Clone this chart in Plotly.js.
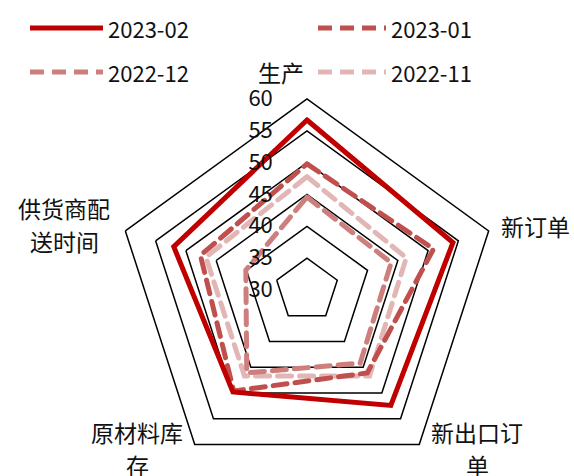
<!DOCTYPE html>
<html>
<head>
<meta charset="utf-8">
<script src="https://cdn.plot.ly/plotly-3.0.1.min.js"></script>
<style>
html,body{margin:0;padding:0;overflow:hidden;background:#fff;}
#chart{width:574px;height:490px;}
.js-line{stroke-linecap:round;}
</style>
</head>
<body>
<div id="chart"></div>
<script>
// Categories (clockwise from top)
const categories = ['生产', '新订单', '新出口订单', '原材料库存', '供货商配送时间'];
const tickLabels = ['生产', '新订单', '新出口订<br>单', '原材料库<br>存', '供货商配<br>送时间'];

// Series
const seriesNames = ['2023-02', '2023-01', '2022-12', '2022-11'];
const v202302 = [56.7, 54.1, 52.4, 49.8, 52.0];
const v202301 = [49.8, 50.9, 46.1, 49.6, 47.6];
const v202212 = [44.6, 43.9, 44.2, 46.1, 40.1];
const v202211 = [47.8, 46.4, 46.7, 46.7, 46.7];

// Radial ticks
const radialTicks = [30, 35, 40, 45, 50, 55, 60];

const seriesValues = [v202302, v202301, v202212, v202211];
const colors = ['#C00000', '#C0504D', '#CD7F7D', '#E2B6B5'];
const dashes = ['solid', '14px,8px', '14px,8px', '14px,8px'];

const FONT = '"Noto Sans CJK SC", "Noto Sans", sans-serif';

const W = 574, H = 490;
const M = {l: 116, r: 76, t: 99, b: 9};
const PW = W - M.l - M.r, PH = H - M.t - M.b;
const px = x => (x - M.l) / PW;
const py = y => 1 - (y - M.t) / PH;

const traces = seriesNames.map((name, i) => {
  const r = seriesValues[i];
  return {
    type: 'scatterpolar',
    mode: 'lines',
    name: name,
    r: r.concat([r[0]]),
    theta: categories.concat([categories[0]]),
    line: {color: colors[i], width: 5, dash: dashes[i]},
    showlegend: false,
    hoverinfo: 'skip'
  };
}).reverse();

// Custom legend (2 columns x 2 rows)
const legendPos = [
  {x0: 30, x1: 103, y: 28, tx: 106},
  {x0: 318, x1: 386, y: 28, tx: 389},
  {x0: 30, x1: 103, y: 72, tx: 106},
  {x0: 318, x1: 386, y: 72, tx: 389}
];
const shapes = [];
const annotations = [];
seriesNames.forEach((name, i) => {
  const p = legendPos[i];
  shapes.push({
    type: 'line', xref: 'paper', yref: 'paper',
    x0: px(p.x0), x1: px(p.x1), y0: py(p.y), y1: py(p.y),
    line: {color: colors[i], width: 5, dash: dashes[i]}
  });
  annotations.push({
    xref: 'paper', yref: 'paper', x: px(p.tx), y: py(p.y),
    xanchor: 'left', yanchor: 'middle', showarrow: false,
    text: name, font: {family: FONT, size: 22, color: '#111'}
  });
});

// Angular category labels placed around the outer pentagon (centre x, first-line y)
const labelPos = [
  {x: 281, y: 72},
  {x: 535, y: 226},
  {x: 477, y: 432},
  {x: 137, y: 432},
  {x: 64, y: 208}
];
const LINE_GAP = 33;
tickLabels.forEach((lab, i) => {
  lab.split('<br>').forEach((line, j) => {
    annotations.push({
      xref: 'paper', yref: 'paper',
      x: px(labelPos[i].x), y: py(labelPos[i].y + j * LINE_GAP),
      xanchor: 'center', yanchor: 'middle', showarrow: false,
      text: line, font: {family: FONT, size: 23, color: '#111'}
    });
  });
});

const layout = {
  width: W, height: H,
  margin: M,
  paper_bgcolor: '#fff',
  font: {family: FONT, size: 22, color: '#111'},
  showlegend: false,
  shapes: shapes,
  annotations: annotations,
  polar: {
    domain: {x: [0, 1], y: [0, 1]},
    gridshape: 'linear',
    bgcolor: '#fff',
    radialaxis: {
      range: [30, 60],
      tickvals: radialTicks,
      ticktext: radialTicks.map(String),
      angle: 90,
      side: 'counterclockwise',
      showline: false,
      showgrid: true,
      gridcolor: '#000',
      gridwidth: 1.5,
      ticks: 'outside',
      ticklen: 26,
      tickcolor: 'rgba(0,0,0,0)',
      tickangle: 90,
      tickfont: {family: FONT, size: 22, color: '#111'}
    },
    angularaxis: {
      type: 'category',
      categoryarray: categories,
      direction: 'clockwise',
      rotation: 90,
      showgrid: false,
      showline: true,
      linecolor: '#000',
      linewidth: 1.5,
      ticks: '',
      showticklabels: false
    }
  }
};

Plotly.newPlot('chart', traces, layout, {displayModeBar: false, staticPlot: true});
</script>
</body>
</html>
